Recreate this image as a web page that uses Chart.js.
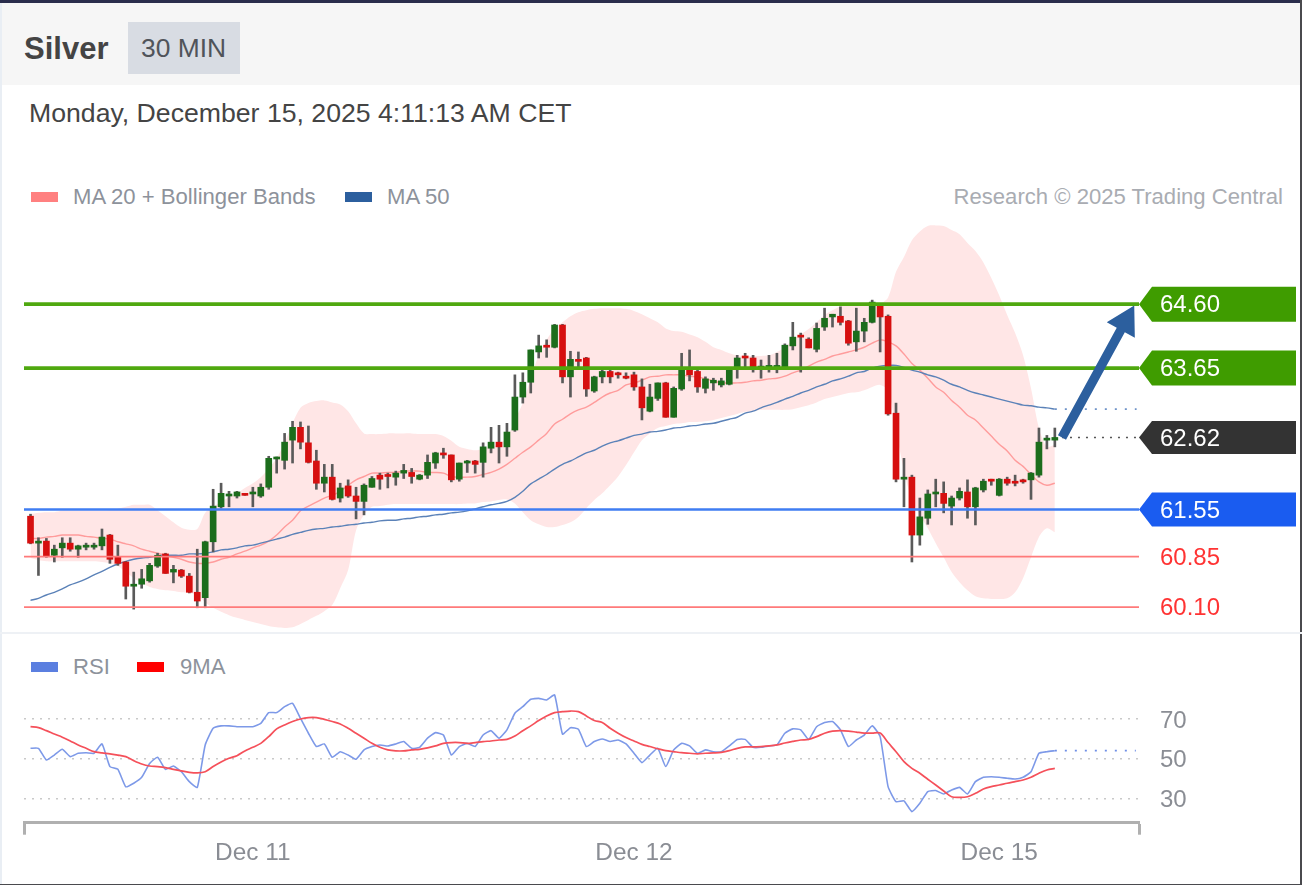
<!DOCTYPE html>
<html><head><meta charset="utf-8">
<script src="https://cdn.jsdelivr.net/npm/chart.js@4"></script>
<style>
html,body{margin:0;padding:0;background:#fff;overflow:hidden}
#page{position:relative;width:1302px;height:885px;background:#fff;font-family:"Liberation Sans",Arial,sans-serif;overflow:hidden;filter:blur(.45px)}
#page div,#page span{position:absolute;white-space:nowrap}
canvas{position:absolute;left:0;display:block}
.leg{font-size:22.1px;line-height:26px;color:#8d929b}
.sw{height:10px;width:27px}
</style></head><body>
<div id="page">
<div style="left:0;top:0;width:1302px;height:3px;background:#2a2d4c"></div>
<div style="left:0;top:3px;width:1302px;height:82px;background:#f6f6f6"></div>
<div style="left:0;top:3px;width:2px;height:882px;background:#e9eef4"></div>
<div style="left:1300px;top:0;width:2px;height:885px;background:#4a4a4e"></div>
<div style="left:0;top:884px;width:1302px;height:1px;background:#4a4a4e"></div>
<div style="left:24px;top:31px;font-size:31px;line-height:36px;font-weight:bold;color:#444">Silver</div>
<div style="left:128px;top:22px;width:112px;height:52px;background:#d8dce3"></div>
<div style="left:141px;top:32px;font-size:26.4px;line-height:32px;color:#50545a">30 MIN</div>
<div style="left:29px;top:97px;font-size:26.65px;line-height:32px;color:#444">Monday, December 15, 2025 4:11:13 AM CET</div>
<div class="sw" style="left:31px;top:192px;background:#ff8080"></div>
<div class="leg" style="left:73px;top:184px">MA 20 + Bollinger Bands</div>
<div class="sw" style="left:345px;top:192px;background:#2c5f9e"></div>
<div class="leg" style="left:387px;top:184px">MA 50</div>
<div class="leg" style="right:19px;top:184px;color:#a9acb2">Research © 2025 Trading Central</div>
<canvas id="price" width="1302" height="412" style="top:220px"></canvas>
<div style="left:0;top:632px;width:1302px;height:2px;background:#eef1f5"></div>
<div class="sw" style="left:31px;top:662px;background:#5b7fe0"></div>
<div class="leg" style="left:73px;top:654px">RSI</div>
<div class="sw" style="left:137px;top:662px;background:#ff0000"></div>
<div class="leg" style="left:180px;top:654px">9MA</div>
<canvas id="rsi" width="1302" height="180" style="top:690px"></canvas>
</div>
<script>
const opens=[61.45,61.05,61.08,60.87,60.98,61.05,60.96,60.99,60.99,61.01,
61.17,60.84,60.77,60.41,60.44,60.49,60.71,60.89,60.62,60.65,
60.56,60.32,60.24,61.07,61.59,61.75,61.75,61.79,61.78,61.75,
61.88,62.30,62.28,62.58,62.77,62.54,62.27,61.94,62.03,61.72,
61.90,61.75,61.67,61.88,62.06,62.07,62.03,62.09,62.10,62.00,
62.06,62.24,62.39,62.36,62.00,62.24,62.27,62.25,62.46,62.55,
62.48,62.73,63.22,63.44,63.89,63.98,63.96,64.29,63.52,63.78,
63.80,63.31,63.52,63.60,63.58,63.53,63.55,63.37,63.01,63.20,
63.43,62.92,63.34,63.62,63.60,63.35,63.43,63.40,63.41,63.63,
63.83,63.80,63.65,63.66,63.66,63.66,63.98,64.12,64.08,63.93,
64.26,64.41,64.42,64.35,64.04,64.20,64.33,64.57,64.42,62.98,
62.00,62.03,61.17,61.42,61.78,61.79,61.60,61.72,61.81,61.59,
61.84,62.00,61.76,62.00,61.96,61.97,61.99,62.06,62.58,62.58];
const highs=[61.48,61.13,61.12,61.02,61.13,61.13,61.02,61.05,61.05,61.26,
61.18,61.02,60.78,60.62,60.66,60.75,60.90,60.90,60.72,60.66,
60.60,60.96,61.08,61.85,61.94,61.82,61.82,61.79,61.88,61.93,
62.34,62.33,62.68,62.86,62.85,62.79,62.43,62.22,62.22,61.94,
61.99,61.88,61.93,62.04,62.09,62.09,62.12,62.22,62.16,62.07,
62.36,62.40,62.46,62.36,62.24,62.28,62.28,62.54,62.77,62.80,
62.83,63.55,63.58,63.92,64.14,64.07,64.30,64.30,63.90,63.89,
63.81,63.53,63.62,63.62,63.59,63.58,63.59,63.49,63.41,63.43,
63.44,63.37,63.87,63.92,63.62,63.52,63.50,63.50,63.65,63.84,
63.87,63.84,63.77,63.84,63.87,64.01,64.33,64.17,64.10,64.32,
64.54,64.45,64.56,64.36,64.54,64.39,64.66,64.61,64.44,63.13,
62.31,62.06,61.72,61.84,62.00,61.96,61.75,61.87,61.99,61.88,
62.00,62.00,62.01,62.03,62.06,62.00,62.10,62.76,62.65,62.76];
const lows=[61.04,60.57,60.84,60.77,60.84,60.93,60.84,60.95,60.96,60.95,
60.75,60.72,60.22,60.07,60.38,60.47,60.69,60.60,60.46,60.54,
60.31,60.09,60.09,60.92,61.57,61.59,61.72,61.76,61.59,61.73,
61.85,62.09,62.15,62.24,62.45,62.24,61.85,61.81,61.69,61.66,
61.73,61.41,61.47,61.88,61.85,61.87,61.91,62.01,61.94,61.99,
62.01,62.16,62.31,61.96,61.97,62.10,62.09,62.03,62.39,62.24,
62.34,62.71,63.13,63.28,63.80,63.81,63.95,63.43,63.22,63.65,
63.23,63.29,63.43,63.43,63.50,63.49,63.32,62.88,63.00,63.17,
62.92,62.92,63.32,63.46,63.29,63.28,63.32,63.37,63.40,63.50,
63.66,63.59,63.50,63.59,63.58,63.66,63.92,63.59,63.95,63.89,
64.21,64.26,64.29,63.99,63.90,64.04,64.32,63.89,62.95,61.96,
61.59,60.77,61.02,61.33,61.59,61.50,61.32,61.69,61.42,61.32,
61.81,61.91,61.75,61.91,61.90,61.94,61.70,62.03,62.45,62.48];
const closes=[61.05,61.08,60.86,60.96,61.05,60.96,61.01,61.01,61.01,61.14,
60.81,60.75,60.41,60.44,60.52,60.72,60.87,60.60,60.66,60.56,
60.32,60.19,61.07,61.60,61.79,61.78,61.81,61.76,61.81,61.88,
62.31,62.33,62.55,62.77,62.55,62.25,61.94,62.03,61.70,61.87,
61.75,61.67,61.91,62.01,62.00,62.04,62.09,62.13,62.04,62.06,
62.25,62.39,62.36,61.99,62.24,62.27,62.22,62.48,62.55,62.48,
62.70,63.22,63.44,63.92,63.98,63.96,64.29,63.52,63.78,63.75,
63.34,63.52,63.60,63.52,63.55,63.50,63.37,63.06,63.22,63.43,
62.92,63.35,63.62,63.55,63.37,63.49,63.47,63.46,63.63,63.80,
63.80,63.66,63.66,63.69,63.69,63.99,64.11,64.11,63.95,64.24,
64.39,64.45,64.33,64.02,64.20,64.33,64.63,64.41,62.97,62.00,
62.03,61.17,61.44,61.78,61.79,61.64,61.72,61.82,61.59,61.87,
61.97,61.97,62.00,61.94,61.94,61.96,62.09,62.55,62.61,62.62];
const bandUpper=[61.48,61.50,61.51,61.51,61.53,61.53,61.53,61.53,61.53,61.53,
61.54,61.56,61.59,61.62,61.62,61.62,61.54,61.45,61.36,61.28,
61.25,61.26,61.50,61.59,61.66,61.73,61.79,61.87,61.94,62.03,
62.16,62.31,62.54,62.83,63.06,63.13,63.16,63.17,63.14,63.11,
63.01,62.83,62.68,62.67,62.67,62.68,62.68,62.68,62.68,62.67,
62.67,62.67,62.64,62.57,62.48,62.45,62.43,62.45,62.48,62.52,
62.62,62.88,63.13,63.50,63.84,64.07,64.24,64.33,64.42,64.48,
64.51,64.53,64.54,64.54,64.54,64.53,64.50,64.45,64.39,64.33,
64.24,64.20,64.19,64.15,64.11,64.04,63.96,63.92,63.87,63.84,
63.83,63.83,63.83,63.84,63.89,63.96,64.07,64.15,64.23,64.33,
64.44,64.51,64.57,64.60,64.60,64.60,64.61,64.61,64.70,65.08,
65.30,65.55,65.68,65.76,65.77,65.76,65.70,65.64,65.51,65.39,
65.22,64.99,64.73,64.44,64.17,63.84,63.35,62.76,62.48,62.51];
const bandLower=[60.83,60.80,60.78,60.78,60.78,60.78,60.78,60.78,60.78,60.77,
60.75,60.71,60.62,60.53,60.46,60.40,60.37,60.35,60.34,60.32,
60.31,60.28,60.17,60.09,60.03,59.98,59.94,59.91,59.88,59.85,
59.82,59.80,59.79,59.80,59.85,59.91,59.97,60.04,60.13,60.38,
60.65,61.24,61.47,61.59,61.60,61.62,61.63,61.63,61.63,61.63,
61.63,61.63,61.63,61.63,61.63,61.64,61.64,61.66,61.67,61.69,
61.70,61.64,61.51,61.39,61.33,61.29,61.29,61.32,61.36,61.44,
61.57,61.69,61.79,61.91,62.04,62.21,62.40,62.58,62.68,62.76,
62.79,62.82,62.83,62.85,62.85,62.86,62.88,62.91,62.94,62.97,
63.00,63.01,63.03,63.03,63.03,63.03,63.04,63.07,63.10,63.14,
63.19,63.22,63.25,63.28,63.29,63.32,63.37,63.40,63.32,62.73,
62.13,61.69,61.47,61.27,61.05,60.84,60.62,60.47,60.35,60.26,
60.23,60.22,60.22,60.23,60.32,60.53,60.84,61.14,61.27,61.21];
const ma20=[61.12,61.12,61.14,61.15,61.17,61.17,61.17,61.15,61.14,61.12,
61.11,61.07,61.04,61.01,60.96,60.93,60.90,60.87,60.84,60.81,
60.77,60.75,60.75,60.77,60.81,60.84,60.89,60.93,60.98,61.02,
61.08,61.17,61.29,61.39,61.53,61.60,61.66,61.72,61.76,61.82,
61.91,61.99,62.04,62.09,62.09,62.10,62.10,62.12,62.12,62.12,
62.10,62.10,62.09,62.04,62.03,62.03,62.04,62.07,62.10,62.15,
62.22,62.31,62.40,62.48,62.58,62.68,62.82,62.89,62.97,63.03,
63.07,63.14,63.22,63.28,63.32,63.40,63.43,63.47,63.52,63.53,
63.55,63.55,63.55,63.53,63.52,63.49,63.46,63.43,63.43,63.43,
63.44,63.46,63.47,63.49,63.50,63.53,63.58,63.62,63.68,63.74,
63.78,63.83,63.86,63.89,63.92,63.96,64.02,64.07,64.04,63.98,
63.86,63.72,63.62,63.50,63.37,63.29,63.17,63.07,62.95,62.88,
62.76,62.64,62.52,62.42,62.28,62.19,62.07,61.96,61.91,61.94];
const ma50=[60.20,60.23,60.28,60.32,60.37,60.43,60.47,60.52,60.58,60.63,
60.69,60.74,60.78,60.81,60.83,60.84,60.86,60.87,60.87,60.87,
60.89,60.89,60.90,60.92,60.95,60.96,60.98,61.01,61.02,61.05,
61.08,61.11,61.14,61.18,61.21,61.24,61.26,61.27,61.29,61.30,
61.32,61.33,61.35,61.36,61.38,61.39,61.39,61.41,61.42,61.44,
61.45,61.47,61.48,61.50,61.51,61.53,61.56,61.59,61.62,61.64,
61.67,61.73,61.82,61.93,62.00,62.07,62.15,62.22,62.27,62.33,
62.39,62.43,62.49,62.54,62.57,62.61,62.65,62.67,62.70,62.71,
62.73,62.76,62.77,62.79,62.80,62.82,62.83,62.86,62.89,62.92,
62.98,63.01,63.06,63.10,63.14,63.19,63.23,63.28,63.32,63.37,
63.41,63.46,63.49,63.53,63.58,63.60,63.65,63.68,63.69,63.69,
63.66,63.62,63.59,63.55,63.52,63.47,63.41,63.37,63.32,63.28,
63.25,63.22,63.19,63.16,63.13,63.10,63.09,63.07,63.06,63.04];
const rsi=[55.2,55.2,49.3,51.8,54.7,51.0,52.7,53.0,52.7,57.4,
46.0,44.6,35.8,37.6,40.6,47.6,50.7,44.6,46.3,43.4,
38.4,35.5,56.9,65.3,66.5,66.5,66.1,66.1,66.1,67.8,
73.2,73.2,76.2,77.9,70.3,62.8,56.1,57.4,50.7,53.5,
51.8,49.7,54.4,56.1,56.9,56.4,57.4,58.6,55.2,55.7,
60.3,63.1,61.9,51.8,56.1,57.7,56.1,61.9,64.1,60.3,
64.5,72.9,76.2,79.9,80.4,79.6,82.1,62.4,65.6,64.8,
56.1,58.6,59.9,58.6,59.4,57.4,52.7,48.0,51.8,55.2,
46.0,54.4,57.7,56.4,52.7,54.4,53.5,53.5,56.4,59.7,
59.7,55.7,55.7,56.4,56.9,62.8,65.0,64.5,59.7,66.1,
68.2,68.7,64.5,56.1,59.4,61.9,66.5,61.1,35.9,28.3,
28.7,23.3,27.5,33.4,33.9,32.2,34.2,35.5,32.2,38.4,
40.6,40.9,40.6,40.1,39.7,40.6,43.4,52.7,53.5,54.0];
const rsiMa=[66.1,65.6,64.1,62.4,60.8,58.9,56.9,55.2,53.5,52.9,
52.4,51.8,51.0,49.0,47.3,46.3,46.0,45.5,44.6,43.8,
43.1,42.8,43.4,46.0,48.3,50.2,51.5,53.9,55.7,57.7,
61.1,65.0,67.0,68.7,70.0,70.7,70.7,69.8,68.7,67.5,
65.3,62.8,60.3,57.7,55.7,54.4,53.9,53.9,54.4,54.7,
55.4,56.4,57.7,58.1,58.1,57.7,58.1,58.6,58.9,59.4,
59.7,61.4,64.1,66.5,69.2,71.5,73.2,73.7,74.0,73.7,
71.5,69.2,68.2,65.3,62.8,60.6,58.9,57.2,56.1,55.0,
54.0,53.5,53.0,52.7,52.4,52.7,52.9,53.2,54.0,55.2,
55.9,55.9,56.1,56.4,56.9,57.9,58.7,59.4,59.7,61.1,
62.8,63.9,64.1,63.9,63.4,62.9,62.9,62.9,58.1,53.5,
48.5,45.1,42.6,39.6,36.7,33.7,30.8,30.5,30.8,32.5,
34.7,35.9,36.7,37.6,38.4,39.2,40.6,42.6,44.3,45.1];
const priceLevels=[64.60,63.65,62.62,61.55,60.85,60.10];
const levelText=['#ffffff','#ffffff','#ffffff','#ffffff','#ff3333','#ff3333'];
const rsiLevels=[70,50,30];
const tickIndex=[28,76,122];
const tickLabels=['Dec 11','Dec 12','Dec 15'];
const lastPrice=62.62, lastMa50=63.04, lastRsi=54.0;
const xMin=-0.82, xMax=139.6, dotEnd=139.2;
const arrowStart=[129.9,62.62], arrowEnd=[139.0,64.58];

Chart.defaults.font.family='"Liberation Sans",Arial,sans-serif';
Chart.defaults.animation=false;
const pts=a=>a.map((v,i)=>({x:i,y:v}));
const n=closes.length, last=n-1;
const upColor='#1c6d1c', dnColor='#d60f0f';
const candleColors=closes.map((c,i)=>c>=opens[i]?upColor:dnColor);
const lineDs=(label,data,color,width,order,extra)=>Object.assign({type:'line',label,data,borderColor:color,borderWidth:width,pointRadius:0,fill:false,order,tension:0},extra||{});
const levelX=[xMin,xMax];
const levelDs=(v,color,w)=>lineDs('Level '+v,levelX.map(x=>({x,y:v})),color,w,1);
const fitY=s=>{s.width=163;s.paddingTop=0;s.paddingBottom=0;};

const tagPlugin={id:'tags',beforeDraw(c){
  const y=c.scales.y,cx=c.ctx,L=c.chartArea.right,tags=[[64.60,'#3f9c00',17.5],[63.65,'#3f9c00',17.5],[62.62,'#333333',16.5],[61.55,'#1a5cf0',17]];
  tags.forEach(([v,col,h])=>{const p=y.getPixelForValue(v);cx.save();cx.fillStyle=col;cx.beginPath();
    cx.moveTo(L,p);cx.lineTo(L+13,p-h);cx.lineTo(1296,p-h);cx.lineTo(1296,p+h);cx.lineTo(L+13,p+h);cx.closePath();cx.fill();cx.restore();});
},afterDatasetsDraw(c){
  const X=c.scales.x,Y=c.scales.y,cx=c.ctx;
  const x0=X.getPixelForValue(arrowStart[0]),y0=Y.getPixelForValue(arrowStart[1]);
  const x1=X.getPixelForValue(arrowEnd[0]),y1=Y.getPixelForValue(arrowEnd[1]);
  const a=Math.atan2(y1-y0,x1-x0),len=Math.hypot(x1-x0,y1-y0);
  cx.save();cx.translate(x0,y0);cx.rotate(a);cx.fillStyle='#2c5f9e';cx.beginPath();
  cx.moveTo(0,-4.6);cx.lineTo(len-28,-4.6);cx.lineTo(len-28,-16);cx.lineTo(len,0);cx.lineTo(len-28,16);cx.lineTo(len-28,4.6);cx.lineTo(0,4.6);cx.closePath();cx.fill();cx.restore();
}};

new Chart(document.getElementById('price'),{
  type:'line',
  data:{datasets:[
    lineDs('Upper band',pts(bandUpper),'rgba(0,0,0,0)',0,9,{fill:'+1',backgroundColor:'#ffe6e6',tension:.3}),
    lineDs('Lower band',pts(bandLower),'rgba(0,0,0,0)',0,9,{tension:.3}),
    lineDs('MA 20',pts(ma20),'#ff9c9c',1.4,6,{tension:.3}),
    lineDs('MA 50',pts(ma50),'#5b82b8',1.4,5,{tension:.3}),
    {type:'bar',label:'Wick',data:pts(lows).map((p,i)=>({x:i,y:[lows[i],highs[i]]})),backgroundColor:'#5a5a5a',barThickness:2,grouped:false,order:4},
    {type:'bar',label:'Body',data:pts(opens).map((p,i)=>({x:i,y:[opens[i],closes[i]]})),backgroundColor:candleColors,barThickness:6,minBarLength:2,grouped:false,order:3},
    levelDs(64.60,'#4fa80f',3.6),
    levelDs(63.65,'#4fa80f',3.6),
    levelDs(61.55,'#3f7df2',2.6),
    levelDs(60.85,'#ff7a7a',1.6),
    levelDs(60.10,'#ff7a7a',1.6),
    lineDs('Last price',[{x:arrowStart[0],y:lastPrice},{x:xMax-.3,y:lastPrice}],'#555',1.6,1,{borderDash:[2,6]}),
    lineDs('MA 50 last',[{x:last,y:lastMa50},{x:xMax-.3,y:lastMa50}],'#6f93c8',1.6,1,{borderDash:[2,8]})
  ]},
  options:{responsive:false,devicePixelRatio:1,layout:{padding:{left:24}},
    plugins:{legend:{display:false},tooltip:{enabled:false}},
    scales:{
      x:{type:'linear',display:false,min:xMin,max:xMax,offset:false},
      y:{type:'linear',position:'right',min:59.73,max:65.85,beginAtZero:false,
        grid:{display:false,drawTicks:false},border:{display:false},
        afterBuildTicks(s){s.ticks=priceLevels.map(v=>({value:v}))},
        afterFit:fitY,
        ticks:{padding:21,labelOffset:1.5,autoSkip:false,font:{size:24},color:c=>levelText[c.index],callback:v=>Number(v).toFixed(2)}}
    }},
  plugins:[tagPlugin]
});

new Chart(document.getElementById('rsi'),{
  type:'line',
  data:{datasets:[
    lineDs('RSI',pts(rsi),'#7d99e8',1.6,2,{tension:.15}),
    lineDs('9MA',pts(rsiMa),'#f5505a',1.7,1,{tension:.3}),
    lineDs('RSI last',[{x:last,y:lastRsi},{x:dotEnd,y:lastRsi}],'#6f8fe6',1.8,2,{borderDash:[2,8]})
  ]},
  options:{responsive:false,devicePixelRatio:1,layout:{padding:{left:24}},
    plugins:{legend:{display:false},tooltip:{enabled:false}},
    scales:{
      x:{type:'linear',min:xMin,max:xMax,offset:false,
        afterBuildTicks(s){s.ticks=[xMin].concat(tickIndex,[xMax]).map(v=>({value:v}))},
        afterFit(s){s.height=47.3},
        grid:{drawOnChartArea:false,drawTicks:true,tickLength:12,tickWidth:3,tickColor:c=>(c.tick&&tickIndex.includes(c.tick.value))?'rgba(0,0,0,0)':'#b0b0b0'},
        border:{display:true,color:'#b0b0b0',width:3},
        ticks:{autoSkip:false,maxRotation:0,padding:4,font:{size:24.4},color:'#8a8d94',
          callback:v=>{const k=tickIndex.indexOf(v);return k<0?'':tickLabels[k]}}},
      y:{type:'linear',position:'right',min:17.7,max:84.6,
        grid:{drawTicks:false,color:'#c9c9c9',lineWidth:1.5},border:{display:false,dash:[2,6]},
        afterBuildTicks(s){s.ticks=rsiLevels.map(v=>({value:v}))},
        afterFit:fitY,
        ticks:{padding:21,labelOffset:2,autoSkip:false,font:{size:24},color:'#8a8d94'}}
    }}
});
</script>
</body></html>
